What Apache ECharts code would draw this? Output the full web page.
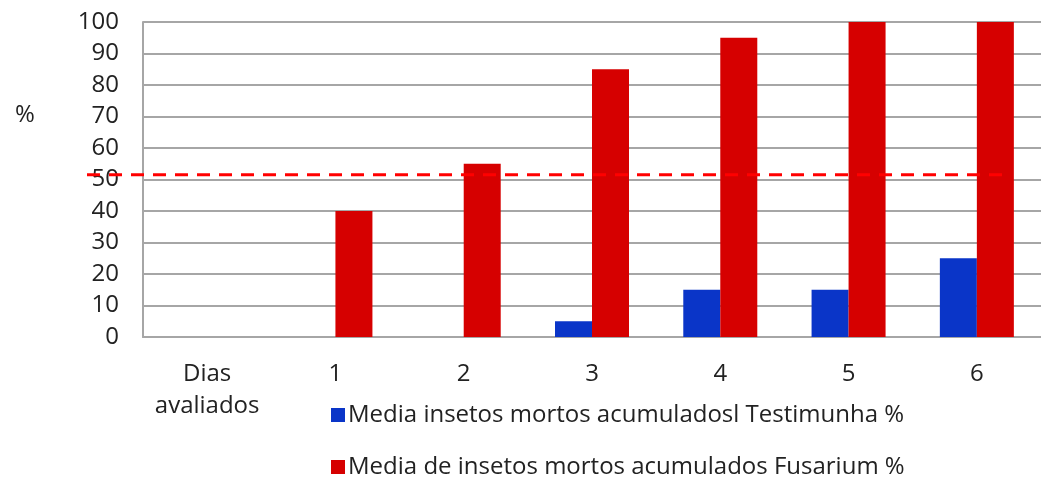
<!DOCTYPE html>
<html>
<head>
<meta charset="utf-8">
<script src="https://cdn.jsdelivr.net/npm/echarts@6/dist/echarts.min.js"></script>
<style>
  html, body { margin: 0; padding: 0; background: #fff; }
  #chart { width: 1041px; height: 479px; }
</style>
</head>
<body>
<div id="chart"></div>
<script>
const categories = ['Dias\navaliados', '1', '2', '3', '4', '5', '6'];
const testimunha = [0, 0, 0, 5, 15, 15, 25];
const fusarium = [0, 40, 55, 85, 95, 100, 100];
const seriesNames = [
  'Media insetos mortos acumuladosl Testimunha %',
  'Media de insetos mortos acumulados Fusarium %'
];
// dashed reference line at ~51.5 %, drawn start-to-end of its own grid
const refLine = [[0, 51.5], [1, 51.5]];

const font = '"Open Sans", "Liberation Sans", sans-serif';
const txt = { fontFamily: font, fontSize: 24, color: '#222' };
const chart = echarts.init(document.getElementById('chart'));

const legendBase = {
  left: 326,
  itemWidth: 14, itemHeight: 14,
  icon: 'rect',
  textStyle: Object.assign({}, txt, { padding: [0, 0, 0, -2] })
};

chart.setOption({
  animation: false,
  backgroundColor: '#fff',
  title: {
    text: '%', left: 10, top: 98,
    textStyle: Object.assign({}, txt, { fontWeight: 'normal' })
  },
  grid: [
    { left: 143, width: 900, top: 22, bottom: 142 },
    { left: 87, right: 33, top: 22, bottom: 142 }
  ],
  legend: [
    Object.assign({ top: 398, data: [seriesNames[0]] }, legendBase),
    Object.assign({ top: 450, data: [seriesNames[1]] }, legendBase)
  ],
  xAxis: [{
    type: 'category',
    data: categories,
    axisLine: { lineStyle: { color: '#a6a6a6', width: 2 } },
    axisTick: { show: false },
    axisLabel: Object.assign({}, txt, { interval: 0, margin: 21, lineHeight: 32 })
  }, {
    gridIndex: 1, type: 'value', min: 0, max: 1, show: false
  }],
  yAxis: [{
    type: 'value', min: 0, max: 100, interval: 10,
    axisLine: { show: true, lineStyle: { color: '#a6a6a6', width: 2 } },
    axisTick: { show: false },
    splitLine: { lineStyle: { color: '#a6a6a6', width: 2 } },
    axisLabel: Object.assign({}, txt, { margin: 24 })
  }, {
    gridIndex: 1, type: 'value', min: 0, max: 100, show: false
  }],
  series: [{
    name: seriesNames[0], type: 'bar', data: testimunha,
    barWidth: 37, barGap: '0%',
    itemStyle: { color: '#0a35c8' }
  }, {
    name: seriesNames[1], type: 'bar', data: fusarium,
    barWidth: 37, barGap: '0%',
    itemStyle: { color: '#d60000' }
  }, {
    type: 'line', xAxisIndex: 1, yAxisIndex: 1, data: refLine,
    symbol: 'none', silent: true,
    lineStyle: { color: '#ff0000', width: 3, type: [13, 9] },
    z: 5
  }]
});
</script>
</body>
</html>
